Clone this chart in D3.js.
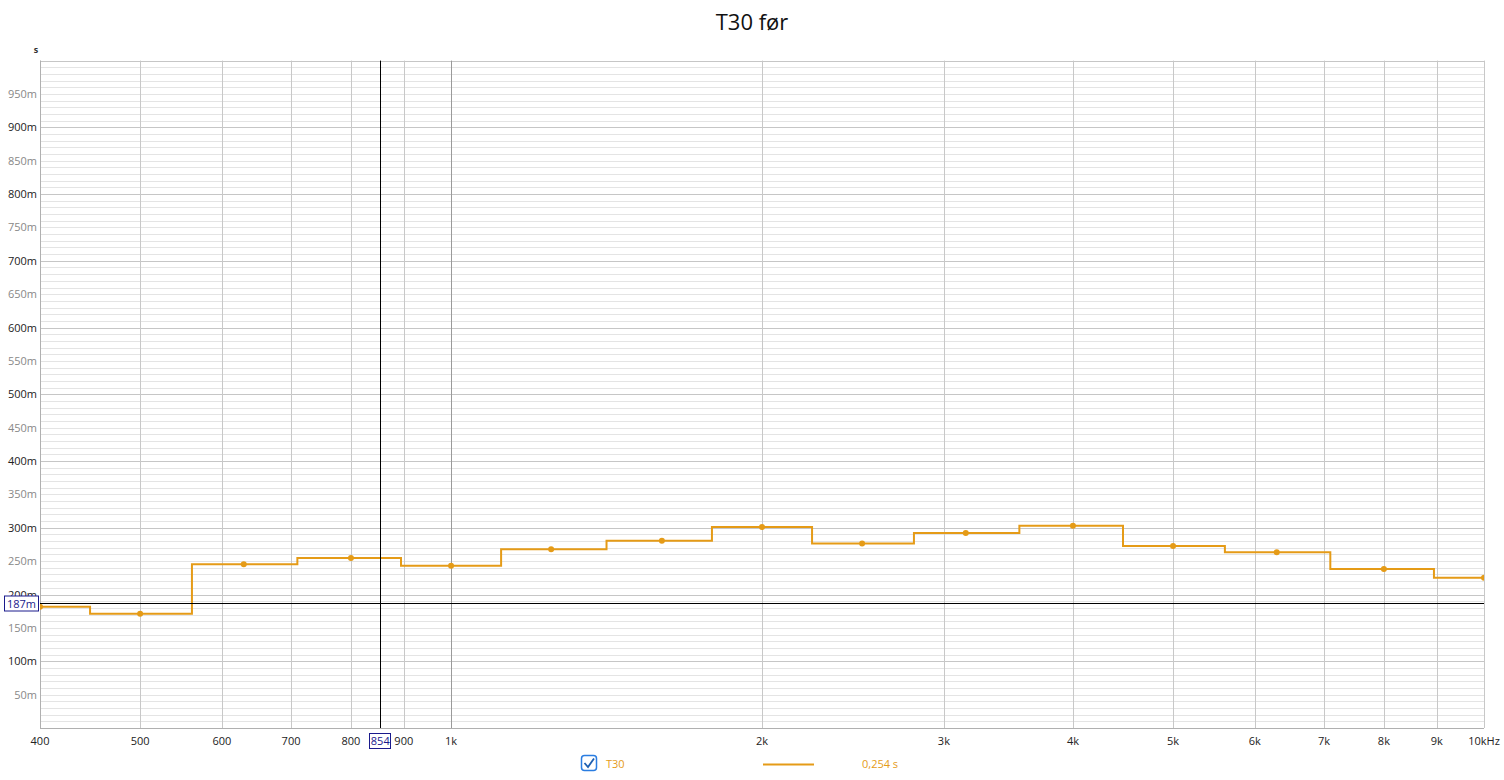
<!DOCTYPE html>
<html>
<head>
<meta charset="utf-8">
<script src="https://cdn.jsdelivr.net/npm/d3@7"></script>
<style>
  body { margin: 0; background: #fff; }
  text { font-family: "Open Sans", "Noto Sans", sans-serif; }
</style>
</head>
<body>
<svg id="chart" width="1504" height="780"></svg>
<script>
// third-octave bands (Hz) and T30 (s)
var bands = [400, 500, 630, 800, 1000, 1250, 1600, 2000, 2500, 3150, 4000, 5000, 6300, 8000, 10000];
var t30 = [0.1817, 0.1712, 0.2452, 0.2547, 0.2432, 0.2677, 0.2806, 0.3011, 0.2765, 0.2921, 0.3031, 0.2727, 0.2632, 0.2382, 0.2252];

var xTicks = [400, 500, 600, 700, 800, 900, 1000, 2000, 3000, 4000, 5000, 6000, 7000, 8000, 9000, 10000];
var xLabels = ["400", "500", "600", "700", "800", "900", "1k", "2k", "3k", "4k", "5k", "6k", "7k", "8k", "9k", "10kHz"];
var yLabelTicks = d3.range(0.05, 0.951, 0.05);

var cursorFreq = 854;
var cursorVal = 0.187;
var legendName = "T30";
var legendValue = "0,254 s";

var svg = d3.select('#chart');
var plot = {l: 40, r: 1484, t: 60.6, b: 728};
var lineColor = "#e59b17";

var x = d3.scaleLog().domain([400, 10000]).range([plot.l, plot.r]);
var y = d3.scaleLinear().domain([0, 1]).range([plot.b, plot.t]);

// title
svg.append('text')
    .attr('x', 752).attr('y', 30)
    .attr('text-anchor', 'middle')
    .style('font-size', '22px').style('fill', '#111')
    .text('T30 før');

svg.append('text')
    .attr('x', 36).attr('y', 53)
    .attr('text-anchor', 'middle')
    .style('font-size', '9px').style('font-weight', 'bold').style('fill', '#333')
    .text('s');

// horizontal grid, minor every 10m, major every 100m
var gridG = svg.append('g');
gridG.selectAll('.hminor')
    .data(d3.range(0.01, 1.0001, 0.01)).enter()
    .append('line')
    .attr('x1', plot.l).attr('x2', plot.r)
    .attr('y1', d => Math.round(y(d)) + 0.5).attr('y2', d => Math.round(y(d)) + 0.5)
    .attr('stroke', d => Math.round(d * 100) % 10 === 0 ? '#c6c6c6' : '#e4e4e4')
    .attr('stroke-width', 1);

// vertical grid
gridG.selectAll('.vgrid')
    .data(xTicks).enter()
    .append('line')
    .attr('x1', d => Math.round(x(d)) + 0.5).attr('x2', d => Math.round(x(d)) + 0.5)
    .attr('y1', plot.t).attr('y2', plot.b)
    .attr('stroke', d => d === 1000 ? '#9a9a9a' : '#c8c8c8');

// axes lines
svg.append('line')
    .attr('x1', plot.l + 0.5).attr('x2', plot.l + 0.5)
    .attr('y1', plot.t).attr('y2', plot.b)
    .attr('stroke', '#b0b0b0');
svg.append('line')
    .attr('x1', plot.l).attr('x2', plot.r)
    .attr('y1', plot.b + 0.5).attr('y2', plot.b + 0.5)
    .attr('stroke', '#b0b0b0');

// y labels
svg.selectAll('.ylab')
    .data(yLabelTicks).enter()
    .append('text')
    .attr('x', 37).attr('y', d => y(d) + 4)
    .attr('text-anchor', 'end')
    .style('font-size', '11px')
    .style('fill', d => Math.round(d * 100) % 10 === 0 ? '#222' : '#888')
    .text(d => Math.round(d * 1000) + 'm');

// x labels
svg.selectAll('.xlab')
    .data(xTicks).enter()
    .append('text')
    .attr('x', d => x(d)).attr('y', 745)
    .attr('text-anchor', 'middle')
    .style('font-size', '11px').style('fill', '#222')
    .text((d, i) => xLabels[i]);

// step line (band edges at geometric midpoints)
svg.append('clipPath').attr('id', 'clip')
    .append('rect')
    .attr('x', plot.l).attr('y', plot.t)
    .attr('width', plot.r - plot.l).attr('height', plot.b - plot.t);

var pts = [];
bands.forEach(function(f, i) {
    var lo = i === 0 ? f / Math.sqrt(bands[1] / bands[0]) : Math.sqrt(f * bands[i - 1]);
    var hi = i === bands.length - 1 ? f * Math.sqrt(f / bands[i - 1]) : Math.sqrt(f * bands[i + 1]);
    pts.push([x(lo), y(t30[i])]);
    pts.push([x(hi), y(t30[i])]);
});

var lineG = svg.append('g').attr('clip-path', 'url(#clip)');
lineG.append('path')
    .attr('d', d3.line()(pts))
    .attr('fill', 'none')
    .attr('stroke', lineColor)
    .attr('stroke-width', 2);

lineG.selectAll('.dot')
    .data(bands).enter()
    .append('circle')
    .attr('cx', d => x(d))
    .attr('cy', (d, i) => y(t30[i]))
    .attr('r', 3)
    .attr('fill', lineColor);

// cursor lines
svg.append('line')
    .attr('x1', Math.round(x(cursorFreq)) + 0.5).attr('x2', Math.round(x(cursorFreq)) + 0.5)
    .attr('y1', plot.t).attr('y2', plot.b)
    .attr('stroke', '#000');
svg.append('line')
    .attr('x1', plot.l).attr('x2', plot.r)
    .attr('y1', Math.round(y(cursorVal)) + 0.5).attr('y2', Math.round(y(cursorVal)) + 0.5)
    .attr('stroke', '#000');

// cursor labels
var cy = Math.round(y(cursorVal)) + 0.5;
svg.append('rect')
    .attr('x', 4.5).attr('y', cy - 7.5).attr('width', 34).attr('height', 15)
    .attr('fill', '#fff').attr('stroke', '#1a1a8c');
svg.append('text')
    .attr('x', 21.5).attr('y', cy + 4)
    .attr('text-anchor', 'middle')
    .style('font-size', '11px').style('fill', '#1a1a8c')
    .text(Math.round(cursorVal * 1000) + 'm');

var cx = x(cursorFreq);
svg.append('rect')
    .attr('x', Math.round(cx) - 10.5).attr('y', 733.5).attr('width', 21).attr('height', 15)
    .attr('fill', '#fff').attr('stroke', '#1a1a8c');
svg.append('text')
    .attr('x', cx).attr('y', 745)
    .attr('text-anchor', 'middle')
    .style('font-size', '11px').style('fill', '#1a1a8c')
    .text(cursorFreq);

// legend
var lg = svg.append('g');
lg.append('rect')
    .attr('x', 581.5).attr('y', 755.5).attr('width', 15).attr('height', 15)
    .attr('rx', 3).attr('fill', '#fff').attr('stroke', '#2a7de1').attr('stroke-width', 1.5);
lg.append('path')
    .attr('d', 'M584.5,763 L588,767 L594,758.5')
    .attr('fill', 'none').attr('stroke', '#1e5fb0').attr('stroke-width', 1.8);
lg.append('text')
    .attr('x', 606).attr('y', 768)
    .style('font-size', '11px').style('fill', lineColor)
    .text(legendName);
lg.append('line')
    .attr('x1', 763).attr('x2', 814).attr('y1', 764.5).attr('y2', 764.5)
    .attr('stroke', lineColor).attr('stroke-width', 2);
lg.append('text')
    .attr('x', 862).attr('y', 768)
    .style('font-size', '11px').style('fill', lineColor)
    .text(legendValue);
</script>
</body>
</html>
